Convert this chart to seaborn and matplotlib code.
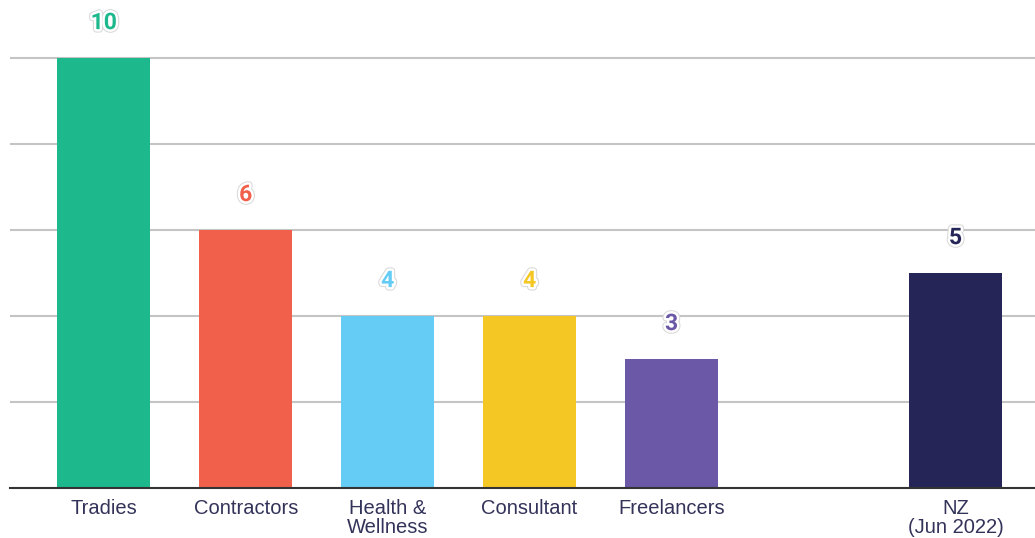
import pandas as pd
import seaborn as sns
import matplotlib.pyplot as plt
import matplotlib.patheffects as pe

# %% DATA

categories = ['Tradies', 'Contractors', 'Health &\nWellness', 'Consultant', 'Freelancers', 'NZ\n(Jun 2022)']
values = [10, 6, 4, 4, 3, 5]
colours = ['#1db88c', '#f0604b', '#65cdf5', '#f4c724', '#6b58a6', '#252657']
order = categories[:5] + [' '] + categories[5:]

data = pd.DataFrame({'Category': categories, 'Value': values})
palette = dict(zip(categories, colours))

# %% PLOT

sns.set_style('white')
plt.rcParams['font.family'] = ['Liberation Sans', 'DejaVu Sans']

fig = plt.figure(figsize=(10.35, 5.38), dpi=100)
ax = fig.add_axes([0.0097, 0.0929, 0.9903, 0.9071])

sns.barplot(
    data=data,
    x='Category',
    y='Value',
    hue='Category',
    order=order,
    hue_order=categories,
    palette=palette,
    width=0.655,
    saturation=1,
    linewidth=0,
    legend=False,
    ax=ax,
)

# value labels with a light halo
halo = [
    pe.Stroke(linewidth=5, foreground='#d9d9d9'),
    pe.Stroke(linewidth=3.5, foreground='white'),
    pe.Normal(),
]
for cat, val, col in zip(categories, values, colours):
    xpos = order.index(cat)
    ax.annotate(
        str(val),
        xy=(xpos, val),
        xytext=(0, 25.5),
        textcoords='offset points',
        ha='center',
        va='center',
        fontsize=16.5,
        fontweight='bold',
        family='Roboto',
        color=col,
        path_effects=halo,
    )

ax.set_xlim(-0.66, 6.56)
ax.set_ylim(0, 11.35)
ax.set_yticks([2, 4, 6, 8, 10])
ax.set_yticklabels([])
ax.tick_params(axis='y', length=0)
ax.tick_params(axis='x', length=0, labelsize=14.5, labelcolor='#33335a', pad=8)
for lbl in ax.get_xticklabels():
    lbl.set_linespacing(1.0)
ax.set_xlabel('')
ax.set_ylabel('')
ax.grid(axis='y', color='#c4c4c4', linewidth=1.5)
ax.set_axisbelow(True)

sns.despine(ax=ax, left=True)
ax.spines['bottom'].set_color('#333333')
ax.spines['bottom'].set_linewidth(1.5)

fig.savefig('out.png', dpi=100)
